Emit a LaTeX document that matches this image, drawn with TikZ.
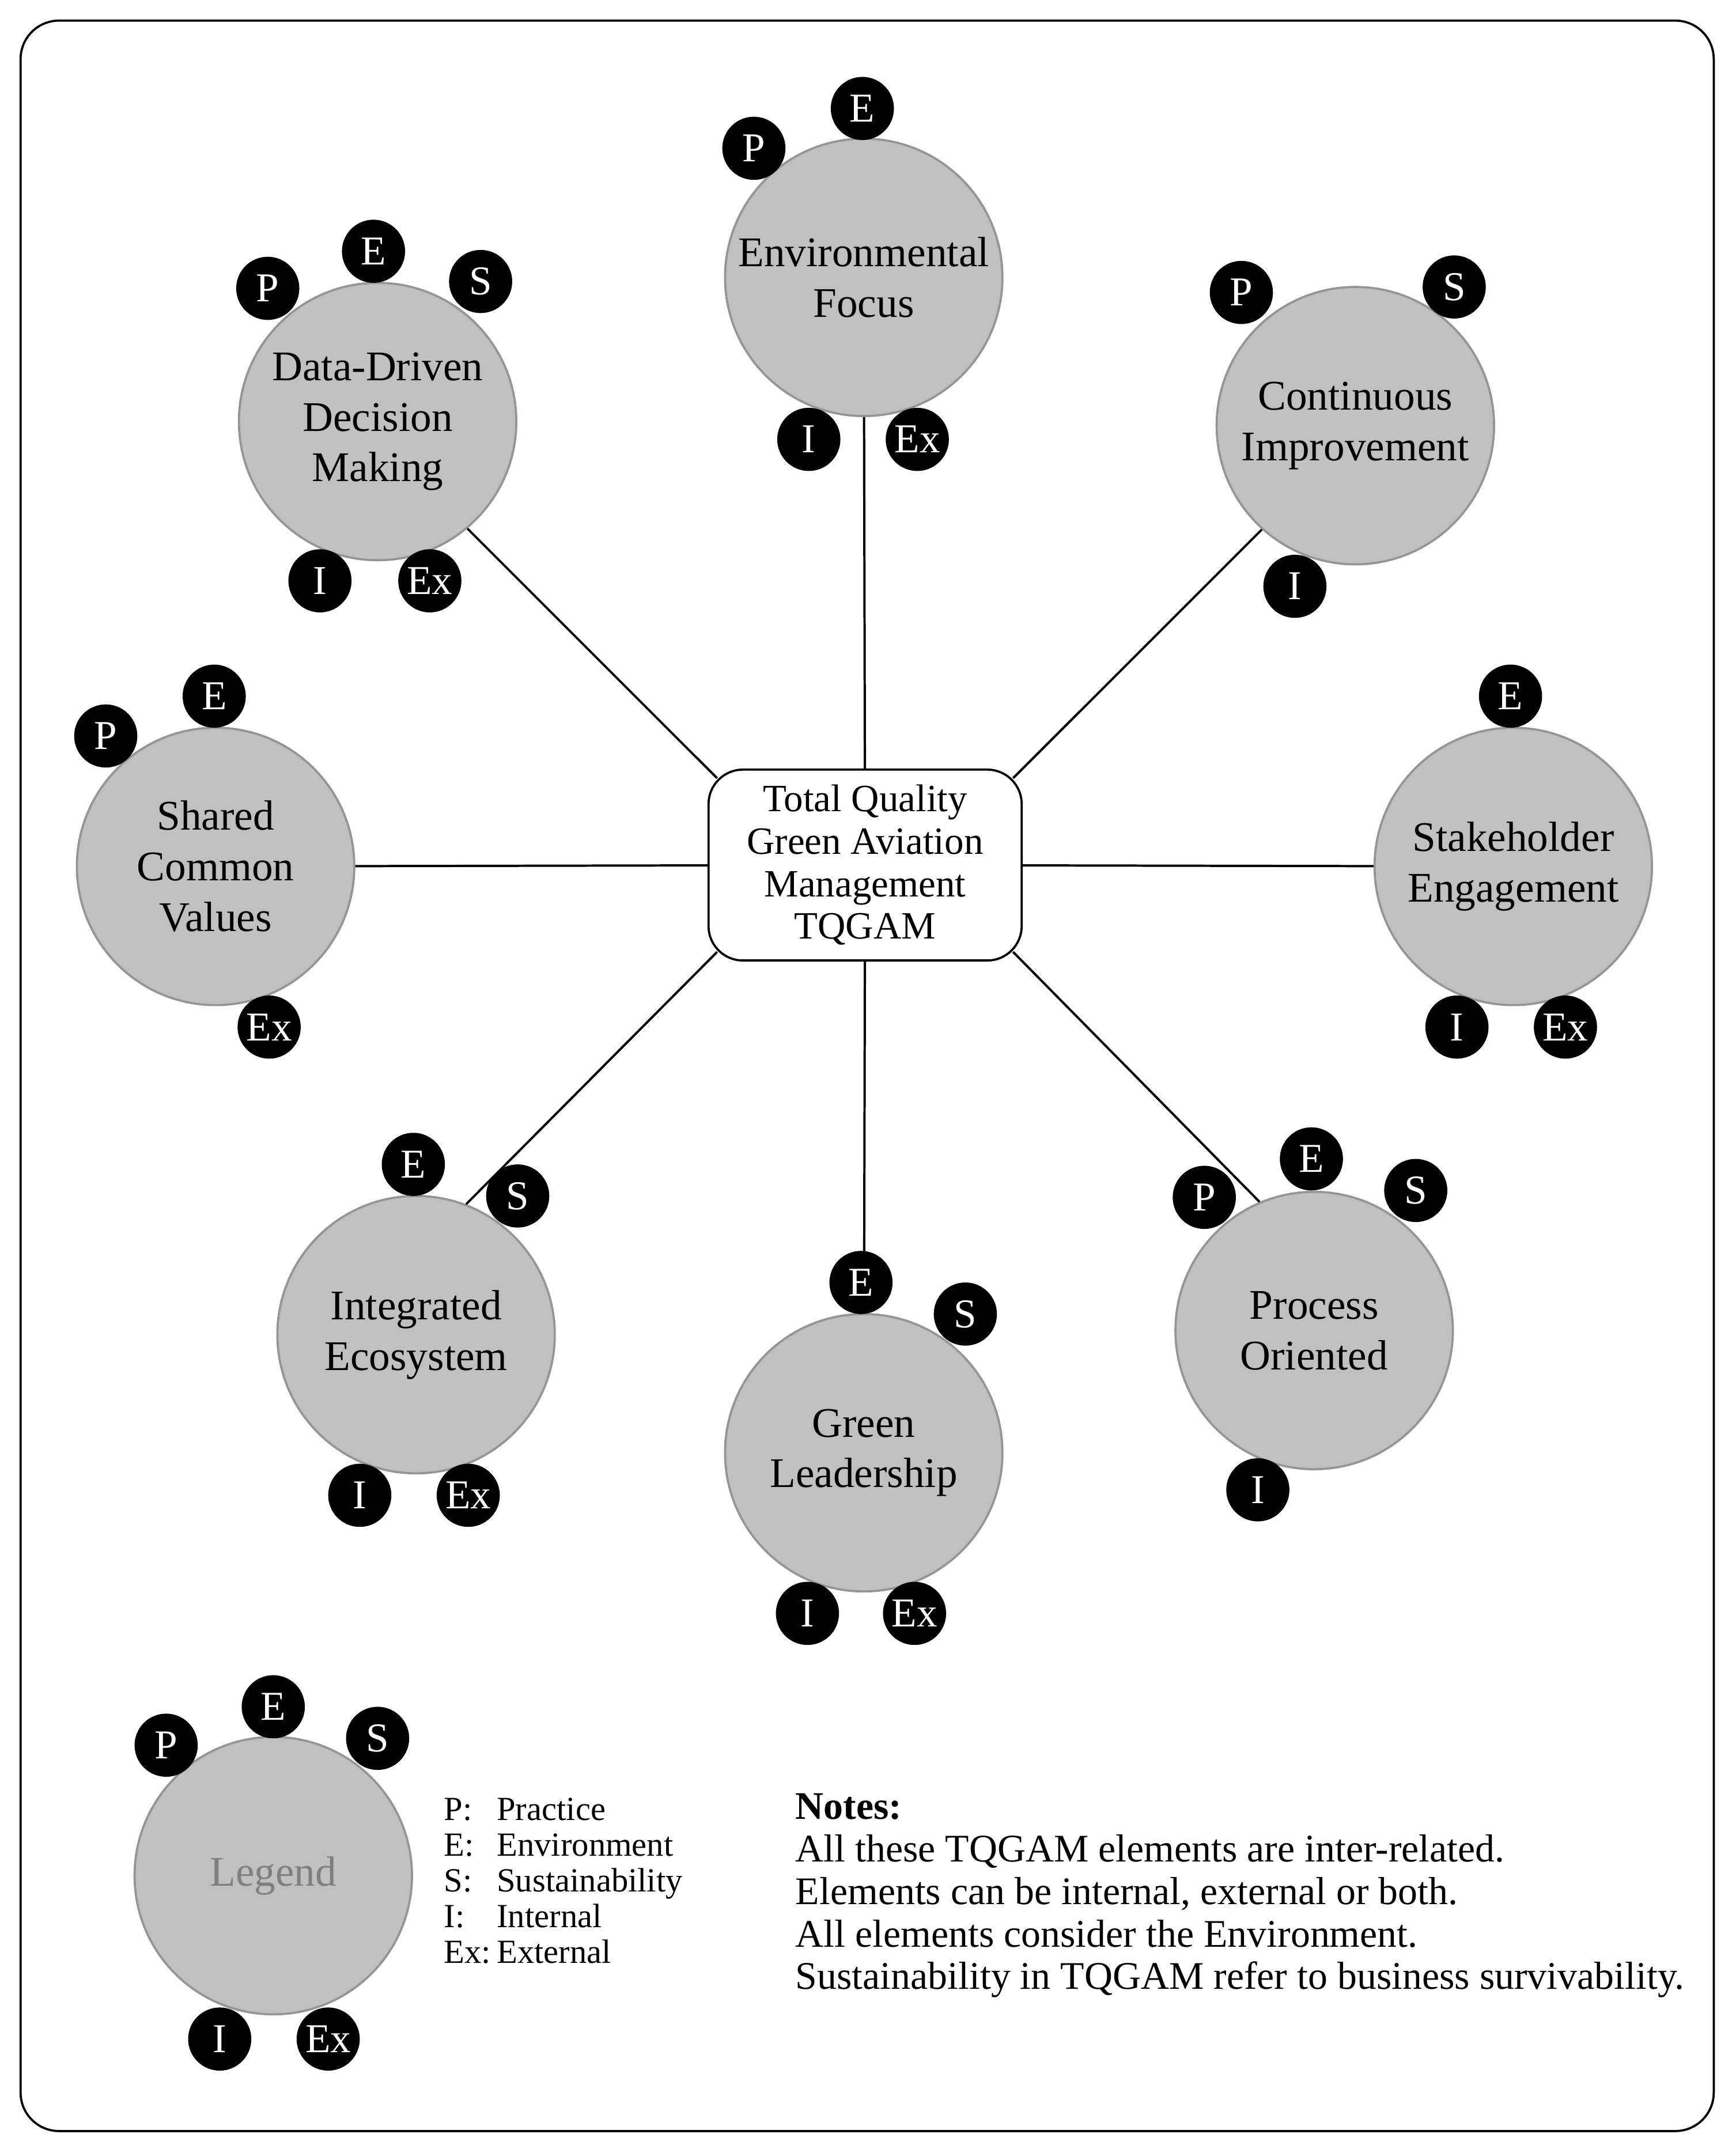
\documentclass[tikz,border=0pt]{standalone}
\usepackage{fontspec}
\setmainfont{Liberation Serif}
\definecolor{elfill}{HTML}{C0C0C0}
\definecolor{eledge}{HTML}{959595}
\definecolor{legendgray}{HTML}{7F7F7F}

\begin{document}
\begin{tikzpicture}[x=0.2mm,y=-0.2mm,
  element/.style={circle,draw=eledge,line width=0.9pt,fill=elfill,minimum size=40.4mm,inner sep=0pt,align=center,font=\fontsize{17.5}{21}\selectfont},
  badge/.style={circle,fill=black,minimum size=9.2mm,inner sep=0pt,text=white,font=\fontsize{17}{20}\selectfont},
  link/.style={line width=0.95pt}]
\useasboundingbox (0,0) rectangle (1264,1568);
\draw[line width=0.9pt,rounded corners=5.6mm] (15,15) rectangle (1248,1552);

\node (tqgam) at (630,630) [draw,line width=0.9pt,rounded corners=5mm,minimum width=45.6mm,minimum height=27.8mm,inner sep=0pt,align=center,font=\fontsize{16}{17.6}\selectfont] {Total Quality\\Green Aviation\\Management\\TQGAM};

\node (el-env) at (629,202) [element] {Environmental\\Focus};
\node (el-ddm) at (275,307) [element] {Data-Driven\\Decision\\Making};
\node (el-ci) at (987,310) [element] {Continuous\\Improvement};
\node (el-scv) at (157,631) [element] {Shared\\Common\\Values};
\node (el-se) at (1102,631) [element] {Stakeholder\\Engagement};
\node (el-ie) at (303,972) [element] {Integrated\\Ecosystem};
\node (el-gl) at (629,1058) [element] {Green\\Leadership};
\node (el-po) at (957,969) [element] {Process\\Oriented};
\node (el-leg) at (199,1366) [element,text=legendgray] {Legend};

\draw[link] (tqgam) -- (el-env);
\draw[link] (tqgam) -- (el-gl);
\draw[link] (tqgam) -- (el-scv);
\draw[link] (tqgam) -- (el-se);
\draw[link] ([shift={(7,7)}]tqgam.north west) -- (el-ddm.-50);
\draw[link] ([shift={(-7,7)}]tqgam.north east) -- (el-ci.-132);
\draw[link] ([shift={(7,-7)}]tqgam.south west) -- (el-ie.69);
\draw[link] ([shift={(-7,-7)}]tqgam.south east) -- (el-po.113);

% badges
\node (el-env-P) at (549,108) [badge] {P};
\node (el-env-E) at (628,79) [badge] {E};
\node (el-env-I) at (589,320) [badge] {I};
\node (el-env-Ex) at (668,320) [badge] {Ex};
\node (el-ddm-P) at (195,210) [badge] {P};
\node (el-ddm-E) at (272,183) [badge] {E};
\node (el-ddm-S) at (350,205) [badge] {S};
\node (el-ddm-I) at (233,423) [badge] {I};
\node (el-ddm-Ex) at (313,423) [badge] {Ex};
\node (el-ci-P) at (904,213) [badge] {P};
\node (el-ci-S) at (1059,209) [badge] {S};
\node (el-ci-I) at (943,427) [badge] {I};
\node (el-scv-P) at (77,536) [badge] {P};
\node (el-scv-E) at (156,507) [badge] {E};
\node (el-scv-Ex) at (196,748) [badge] {Ex};
\node (el-se-E) at (1100,507) [badge] {E};
\node (el-se-I) at (1061,748) [badge] {I};
\node (el-se-Ex) at (1140,748) [badge] {Ex};
\node (el-ie-E) at (301,848) [badge] {E};
\node (el-ie-S) at (377,871) [badge] {S};
\node (el-ie-I) at (262,1089) [badge] {I};
\node (el-ie-Ex) at (341,1089) [badge] {Ex};
\node (el-gl-E) at (627,934) [badge] {E};
\node (el-gl-S) at (703,957) [badge] {S};
\node (el-gl-I) at (588,1175) [badge] {I};
\node (el-gl-Ex) at (666,1175) [badge] {Ex};
\node (el-po-P) at (877,872) [badge] {P};
\node (el-po-E) at (955,844) [badge] {E};
\node (el-po-S) at (1031,867) [badge] {S};
\node (el-po-I) at (916,1085) [badge] {I};
\node (el-leg-P) at (121,1271) [badge] {P};
\node (el-leg-E) at (199,1243) [badge] {E};
\node (el-leg-S) at (275,1266) [badge] {S};
\node (el-leg-I) at (160,1485) [badge] {I};
\node (el-leg-Ex) at (239,1485) [badge] {Ex};

% legend keys and notes
\node (leg-keys) at (323,1307) [anchor=north west,inner sep=0pt,font=\fontsize{14}{14.8}\selectfont] {\begin{tabular}{@{}p{7.7mm}@{}l@{}}
P: & Practice\\
E: & Environment\\
S: & Sustainability\\
I: & Internal\\
Ex: & External
\end{tabular}};
\node (notes) at (579,1303) [anchor=north west,inner sep=0pt,font=\fontsize{16.2}{17.6}\selectfont] {\begin{tabular}{@{}l@{}}
\textbf{Notes:}\\
All these TQGAM elements are inter-related.\\
Elements can be internal, external or both.\\
All elements consider the Environment.\\
Sustainability in TQGAM refer to business survivability.
\end{tabular}};
\end{tikzpicture}
\end{document}
